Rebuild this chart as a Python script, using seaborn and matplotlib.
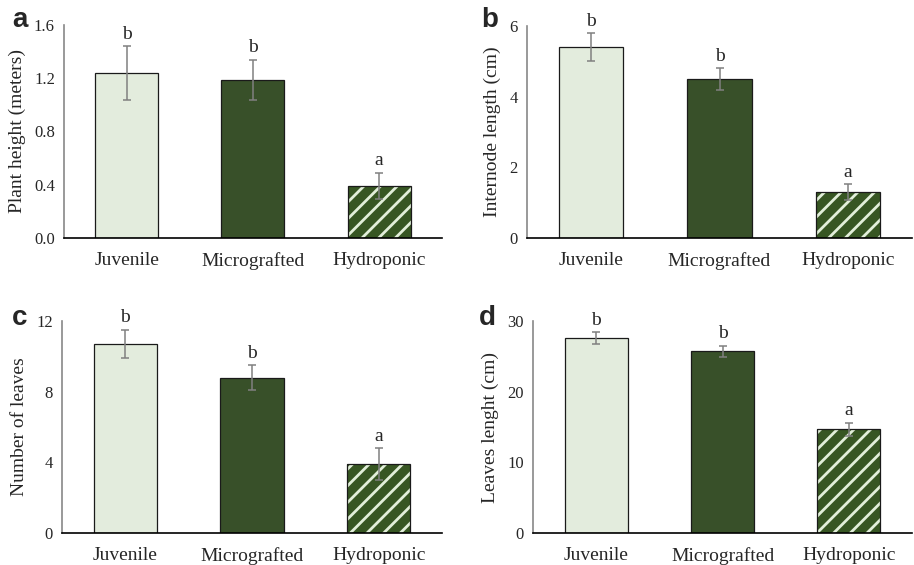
import numpy as np
import pandas as pd
import matplotlib
matplotlib.use("Agg")
import matplotlib.pyplot as plt
import seaborn as sns
from matplotlib.patches import Rectangle

# ---- data ----
categories = ["Juvenile", "Micrografted", "Hydroponic"]
letters = ["b", "b", "a"]

height_vals = [1.24, 1.19, 0.39]
height_err = [0.20, 0.15, 0.10]

internode_vals = [5.4, 4.5, 1.3]
internode_err = [0.40, 0.30, 0.22]

leaves_vals = [10.7, 8.8, 3.9]
leaves_err = [0.8, 0.7, 0.9]

length_vals = [27.6, 25.7, 14.7]
length_err = [0.85, 0.8, 0.9]

panels = [
    ("a", "Plant height (meters)", height_vals, height_err, 1.6, [0.0, 0.4, 0.8, 1.2, 1.6], "{:.1f}"),
    ("b", "Internode length (cm)", internode_vals, internode_err, 6, [0, 2, 4, 6], "{:.0f}"),
    ("c", "Number of leaves", leaves_vals, leaves_err, 12, [0, 4, 8, 12], "{:.0f}"),
    ("d", "Leaves lenght (cm)", length_vals, length_err, 30, [0, 10, 20, 30], "{:.0f}"),
]

light = "#E2EFDA"
dark = "#375623"

sns.set_style("white")
plt.rcParams["font.family"] = ["Liberation Serif", "DejaVu Serif"]
plt.rcParams["hatch.linewidth"] = 2.0

fig = plt.figure(figsize=(9.14, 5.65), dpi=100)
positions = [
    [0.0700, 0.5788, 0.4136, 0.3770],
    [0.5766, 0.5788, 0.4212, 0.3752],
    [0.0678, 0.0566, 0.4158, 0.3752],
    [0.5832, 0.0566, 0.4147, 0.3752],
]
letter_pos = [(20, 20), (490, 20), (20, 318), (487, 318)]

for (tag, ylabel, vals, errs, ymax, ticks, fmt), pos, lp in zip(panels, positions, letter_pos):
    ax = fig.add_axes(pos)
    df = pd.DataFrame({"cat": categories, "val": vals})
    sns.barplot(data=df, x="cat", y="val", hue="cat", palette=[light, dark, dark],
                width=0.5, errorbar=None, legend=False, ax=ax,
                edgecolor="#1a1a1a", linewidth=0.9)
    # hatched hydroponic bar
    p = ax.patches[2]
    p.set_facecolor(dark)
    p.set_hatch("//")
    p.set_edgecolor(light)
    p.set_linewidth(0)
    ax.add_patch(Rectangle(p.get_xy(), p.get_width(), p.get_height(), fill=False,
                           edgecolor="#1a1a1a", linewidth=0.9, zorder=p.get_zorder() + 0.1))
    ax.errorbar(x=np.arange(len(categories)), y=vals, yerr=errs, fmt="none",
                ecolor="#808080", elinewidth=1.1, capsize=3, capthick=1.1, zorder=5)
    for i, (v, e, l) in enumerate(zip(vals, errs, letters)):
        ax.annotate(l, (i, v + e), xytext=(0, 2.5), textcoords="offset points",
                    ha="center", va="bottom", fontsize=14)
    ax.set_ylim(0, ymax)
    ax.set_xlim(-0.5, 2.5)
    ax.set_yticks(ticks)
    ax.set_yticklabels([fmt.format(t) for t in ticks])
    ax.tick_params(axis="both", length=0)
    ax.tick_params(axis="y", pad=6.5, labelsize=12)
    ax.tick_params(axis="x", pad=10, labelsize=14)
    ax.set_xlabel("")
    ax.set_ylabel(ylabel, fontsize=14, labelpad=6)
    for s in ["top", "right"]:
        ax.spines[s].set_visible(False)
    ax.spines["left"].set_color("#888888")
    ax.spines["left"].set_linewidth(1.2)
    ax.spines["bottom"].set_color("#000000")
    ax.spines["bottom"].set_linewidth(1.2)
    fig.text(lp[0] / 914, 1 - lp[1] / 565, tag, fontsize=20, fontweight="bold",
             family=["Liberation Sans", "DejaVu Sans"], ha="center", va="center")

fig.savefig("out.png", dpi=100)
